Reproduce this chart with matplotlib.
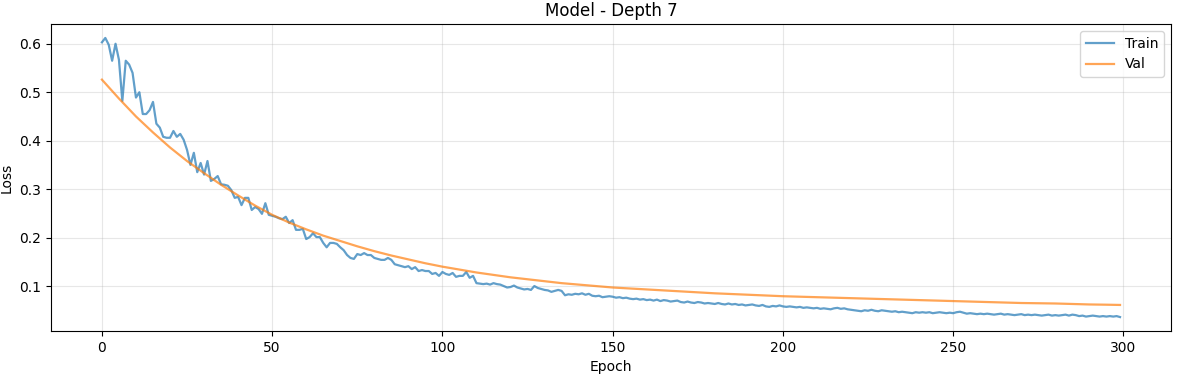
import matplotlib
matplotlib.use("Agg")
import matplotlib.pyplot as plt

title_text = "Model - Depth 7"

train_epochs = list(range(300))
train_loss = [
    0.603, 0.612, 0.598, 0.565, 0.600, 0.567, 0.482, 0.565, 0.557, 0.540,
    0.489, 0.500, 0.455, 0.455, 0.463, 0.480, 0.435, 0.427, 0.408, 0.406,
    0.406, 0.420, 0.408, 0.414, 0.402, 0.381, 0.350, 0.375, 0.335, 0.354,
    0.330, 0.358, 0.317, 0.321, 0.327, 0.310, 0.309, 0.307, 0.298, 0.282,
    0.284, 0.267, 0.282, 0.282, 0.257, 0.263, 0.259, 0.249, 0.271, 0.247,
    0.245, 0.243, 0.240, 0.238, 0.243, 0.230, 0.236, 0.216, 0.216, 0.218,
    0.197, 0.201, 0.209, 0.201, 0.201, 0.189, 0.180, 0.189, 0.189, 0.187,
    0.180, 0.174, 0.164, 0.158, 0.156, 0.166, 0.164, 0.168, 0.164, 0.164,
    0.158, 0.156, 0.154, 0.154, 0.158, 0.154, 0.145, 0.143, 0.141, 0.139,
    0.141, 0.135, 0.139, 0.131, 0.133, 0.131, 0.131, 0.125, 0.127, 0.121,
    0.129, 0.125, 0.123, 0.127, 0.119, 0.121, 0.121, 0.129, 0.117, 0.121,
    0.106, 0.105, 0.104, 0.105, 0.103, 0.106, 0.104, 0.103, 0.100, 0.097,
    0.098, 0.101, 0.097, 0.095, 0.093, 0.094, 0.092, 0.100, 0.096, 0.094,
    0.092, 0.091, 0.088, 0.090, 0.092, 0.090, 0.081, 0.083, 0.082, 0.084,
    0.083, 0.085, 0.082, 0.084, 0.080, 0.079, 0.080, 0.077, 0.078, 0.079,
    0.078, 0.076, 0.077, 0.075, 0.076, 0.074, 0.073, 0.074, 0.072, 0.073,
    0.071, 0.072, 0.070, 0.072, 0.069, 0.071, 0.070, 0.068, 0.069, 0.070,
    0.067, 0.066, 0.068, 0.066, 0.065, 0.067, 0.066, 0.064, 0.065, 0.064,
    0.063, 0.065, 0.063, 0.062, 0.064, 0.062, 0.063, 0.061, 0.062, 0.060,
    0.061, 0.062, 0.060, 0.059, 0.061, 0.058, 0.057, 0.059, 0.058, 0.060,
    0.058, 0.057, 0.058, 0.057, 0.056, 0.057, 0.055, 0.056, 0.055, 0.054,
    0.055, 0.053, 0.054, 0.053, 0.052, 0.054, 0.055, 0.053, 0.054, 0.052,
    0.051, 0.050, 0.049, 0.048, 0.050, 0.049, 0.051, 0.049, 0.048, 0.050,
    0.049, 0.048, 0.047, 0.048, 0.046, 0.047, 0.046, 0.045, 0.044, 0.046,
    0.045, 0.046, 0.045, 0.046, 0.044, 0.045, 0.046, 0.045, 0.044, 0.045,
    0.044, 0.046, 0.047, 0.045, 0.043, 0.044, 0.043, 0.042, 0.043, 0.042,
    0.043, 0.042, 0.041, 0.042, 0.043, 0.041, 0.042, 0.041, 0.040, 0.041,
    0.042, 0.040, 0.041, 0.040, 0.041, 0.040, 0.039, 0.040, 0.041, 0.039,
    0.040, 0.039, 0.040, 0.041, 0.039, 0.041, 0.040, 0.038, 0.039, 0.037,
    0.038, 0.039, 0.038, 0.037, 0.038, 0.037, 0.038, 0.037, 0.038, 0.036,
]

val_epochs = list(range(0, 300, 5)) + [299]
val_loss = [
    0.526, 0.487, 0.450, 0.417, 0.386, 0.358, 0.333, 0.309, 0.287, 0.266,
    0.247, 0.231, 0.217, 0.204, 0.193, 0.182, 0.172, 0.163, 0.155, 0.147,
    0.140, 0.134, 0.128, 0.123, 0.118, 0.114, 0.110, 0.106, 0.103, 0.100,
    0.097, 0.095, 0.093, 0.091, 0.089, 0.087, 0.085, 0.0835, 0.082, 0.0805,
    0.079, 0.078, 0.077, 0.076, 0.075, 0.074, 0.073, 0.072, 0.071, 0.070,
    0.069, 0.068, 0.067, 0.066, 0.065, 0.0645, 0.064, 0.063, 0.062, 0.0615,
    0.061,
]

fig, ax = plt.subplots(figsize=(11.78, 3.78), dpi=100)
fig.subplots_adjust(left=0.0433, right=0.994, top=0.9365, bottom=0.1243)

ax.plot(train_epochs, train_loss, color="C0", alpha=0.7, linewidth=1.6, label="Train")
ax.plot(val_epochs, val_loss, color="C1", alpha=0.7, linewidth=1.6, label="Val")

ax.set_xlabel("Epoch")
ax.set_ylabel("Loss")
ax.set_title(title_text, fontsize=12)
ax.grid(True, alpha=0.3)
ax.legend(loc="upper right")

fig.savefig("out.png", dpi=100)
